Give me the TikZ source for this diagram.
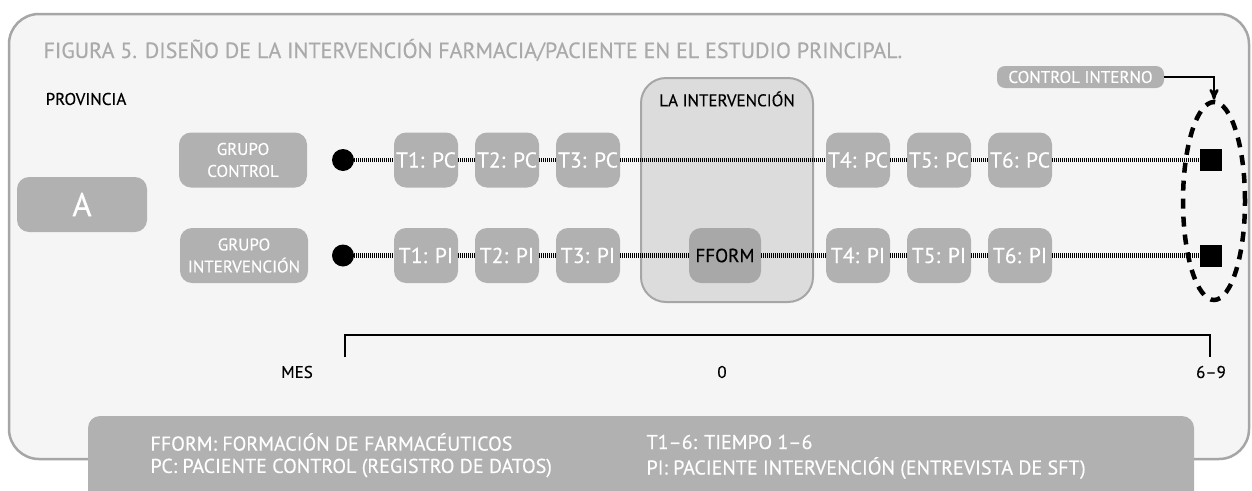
\documentclass[tikz,border=0pt]{standalone}
\usepackage{fontspec}
\setmainfont{PT Sans}[FakeBold=0.35]
\usepackage{tikz}
\usepackage{xcolor}
\usetikzlibrary{arrows}
\usetikzlibrary{shapes,positioning}

\definecolor{boxgrey}{HTML}{B1B1B2}
\definecolor{paneback}{HTML}{F5F5F5}
\definecolor{paneline}{HTML}{A6A6A6}
\definecolor{titlegrey}{HTML}{AAAAAA}
\definecolor{interfill}{HTML}{DCDCDD}
\definecolor{formfill}{HTML}{A8A8A9}

\begin{document}
\begin{tikzpicture}[x=1pt,y=-1pt,>=stealth',node distance=81pt,
    grey box/.style={rectangle,rounded corners=12pt,fill=boxgrey,text=white,inner sep=0pt},
    time box/.style={grey box,minimum width=64pt,minimum height=55pt,font=\fontsize{21.5}{24}\selectfont},
    group box/.style={grey box,minimum width=128pt,minimum height=55pt,align=center,font=\fontsize{17}{22}\selectfont},
    plain text/.style={font=\fontsize{17}{20}\selectfont},
    stripe line/.style={line width=4.5pt,dash pattern=on 1.2pt off 0.8pt},
    end dot/.style={circle,fill=black,minimum size=22pt,inner sep=0pt},
    end square/.style={rectangle,fill=black,minimum size=22pt,inner sep=0pt}]

  \useasboundingbox (0,0) rectangle (1252,490);
  \fill[white] (0,0) rectangle (1252,490);
  \draw[paneline,fill=paneback,line width=2.5pt,rounded corners=30pt] (9,14) rectangle (1249,459);

  \node[anchor=base west,text=titlegrey,font=\fontsize{22}{24}\selectfont] (title) at (40,58)
    {FIGURA 5. DISEÑO DE LA INTERVENCIÓN FARMACIA/PACIENTE EN EL ESTUDIO PRINCIPAL.};
  \node[plain text] (prov) at (86,99) {PROVINCIA};
  \node[grey box,minimum width=130pt,minimum height=55pt,font=\fontsize{33}{36}\selectfont] (A) at (82,204.5) {A};

  % la intervencion
  \draw[paneline,fill=interfill,line width=2pt,rounded corners=25pt] (641,78) rectangle (813,302);
  \node[plain text] (inter) at (727,99) {LA INTERVENCIÓN};

  \node[group box] (gc) at (243,160) {GRUPO\\CONTROL};
  \node[group box] (gi) at (244,255.5) {GRUPO\\INTERVENCIÓN};

  \node[end dot] (dc) at (343,160) {};
  \node[end dot] (di) at (343,255.5) {};

  \node[time box] (t1pc) at (426,160) {T1: PC};
  \node[time box] (t2pc) [right of=t1pc] {T2: PC};
  \node[time box] (t3pc) [right of=t2pc] {T3: PC};
  \node[time box] (t4pc) at (858,160) {T4: PC};
  \node[time box] (t5pc) [right of=t4pc] {T5: PC};
  \node[time box] (t6pc) [right of=t5pc] {T6: PC};

  \node[time box] (t1pi) [below of=t1pc,node distance=95.5pt] {T1: PI};
  \node[time box] (t2pi) [below of=t2pc,node distance=95.5pt] {T2: PI};
  \node[time box] (t3pi) [below of=t3pc,node distance=95.5pt] {T3: PI};
  \node[grey box,fill=formfill,text=black,minimum width=72pt,minimum height=55pt,
        font=\fontsize{19}{22}\selectfont] (fform) at (725,255.5) {FFORM};
  \node[time box] (t4pi) [below of=t4pc,node distance=95.5pt] {T4: PI};
  \node[time box] (t5pi) [below of=t5pc,node distance=95.5pt] {T5: PI};
  \node[time box] (t6pi) [below of=t6pc,node distance=95.5pt] {T6: PI};

  \node[end square] (sc) at (1211,160) {};
  \node[end square] (si) at (1211,255.5) {};

  \path[stripe line]
    (dc) edge (t1pc)
    (t1pc) edge (t2pc)
    (t2pc) edge (t3pc)
    (t3pc) edge (t4pc)
    (t4pc) edge (t5pc)
    (t5pc) edge (t6pc)
    (t6pc) edge (sc)
    (di) edge (t1pi)
    (t1pi) edge (t2pi)
    (t2pi) edge (t3pi)
    (t3pi) edge (fform)
    (fform) edge (t4pi)
    (t4pi) edge (t5pi)
    (t5pi) edge (t6pi)
    (t6pi) edge (si);

  % control interno
  \node[draw,ellipse,line width=4.5pt,dash pattern=on 10pt off 8pt,minimum width=62pt,
        minimum height=198pt,inner sep=0pt] (cie) at (1214,201) {};
  \node[grey box,rounded corners=8pt,minimum width=167pt,minimum height=22pt,
        font=\fontsize{17}{20}\selectfont] (ci) at (1080.5,77) {CONTROL INTERNO};
  \draw[->,line width=2.5pt] (ci.east) -| (cie.north);

  % meses
  \coordinate (m0) at (345,357);
  \coordinate (m1) at (1210,357);
  \draw[line width=2.5pt] (m0) -- ++(0,-22) -| (m1);
  \node[plain text] (mes) at (297,372) {MES};
  \node[plain text] (cero) at (722,372) {0};
  \node[plain text] (fin) at (1211,372) {6–9};

  % leyenda
  \begin{scope}
    \clip (0,0) rectangle (1252,490);
    \fill[boxgrey,rounded corners=12pt] (88,416) rectangle (1194,520);
  \end{scope}
  \begin{scope}[every node/.style={anchor=west,text=white,font=\fontsize{20}{24}\selectfont}]
    \node (l1) at (147,442) {FFORM: FORMACIÓN DE FARMACÉUTICOS};
    \node (l2) at (147,468) {PC: PACIENTE CONTROL (REGISTRO DE DATOS)};
    \node (l3) at (643,442) {T1–6: TIEMPO 1–6};
    \node (l4) at (643,468) {PI: PACIENTE INTERVENCIÓN (ENTREVISTA DE SFT)};
  \end{scope}
\end{tikzpicture}
\end{document}
